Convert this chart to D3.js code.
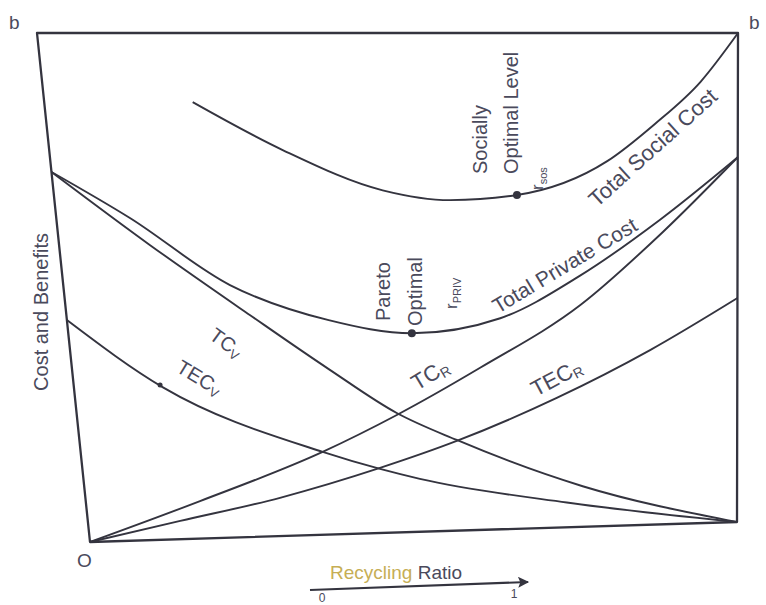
<!DOCTYPE html>
<html>
<head>
<meta charset="utf-8">
<script src="https://cdn.jsdelivr.net/npm/d3@7"></script>
<style>
  body { margin: 0; background: #fff; }
  svg { display: block; }
  text { font-family: "Liberation Sans", Arial, sans-serif; fill: #4a4a5c; }
</style>
</head>
<body>
<div id="chart"></div>
<script>
// curves: [recycling ratio, cost] where cost 1 = b
const tcV = [[0, 0.727], [0.134, 0.581], [0.273, 0.44], [0.387, 0.328], [0.484, 0.239], [0.573, 0.182], [0.763, 0.082], [1, 0]];
const tecV = [[0, 0.436], [0.134, 0.30], [0.368, 0.165], [0.454, 0.128], [0.514, 0.106], [0.738, 0.05], [1, 0]];
const tcR = [[0, 0], [0.175, 0.074], [0.368, 0.165], [0.484, 0.235], [0.613, 0.326], [0.766, 0.449], [0.89, 0.595], [1, 0.746]];
const tecR = [[0, 0], [0.142, 0.036], [0.298, 0.076], [0.454, 0.13], [0.573, 0.18], [0.727, 0.262], [0.869, 0.355], [1, 0.458]];
const totalPrivate = [[0, 0.727], [0.108, 0.635], [0.247, 0.50], [0.39, 0.427], [0.513, 0.398], [0.646, 0.425], [0.766, 0.508], [0.886, 0.62], [1, 0.746]];
const totalSocial = [[0.214, 0.863], [0.339, 0.767], [0.481, 0.685], [0.579, 0.664], [0.677, 0.673], [0.81, 0.74], [0.88, 0.815], [0.946, 0.9], [1, 1]];

// marked points on the curves
const optimumPoints = [[0.513, 0.398], [0.677, 0.673], [0.13, 0.305]];
const ratioTicks = ["0", "1"];

const width = 766, height = 605;

// the page was photographed at an angle, so the plot box is a skewed quad
const tl = [37, 33], tr = [738, 33], br = [737, 522], bl = [90, 542];

const x = d3.scaleLinear().domain([0, 1]).range([0, 1]);
const y = d3.scaleLinear().domain([0, 1]).range([1, 0]);

function warp(d) {
  const u = x(d[0]), v = y(d[1]);
  const px = (1 - u) * (1 - v) * tl[0] + u * (1 - v) * tr[0] + u * v * br[0] + (1 - u) * v * bl[0];
  const py = (1 - u) * (1 - v) * tl[1] + u * (1 - v) * tr[1] + u * v * br[1] + (1 - u) * v * bl[1];
  return [px, py];
}

const svg = d3.select("#chart")
  .append("svg")
  .attr("width", width)
  .attr("height", height);

const ink = "#34343f";

const line = d3.line()
  .x(d => warp(d)[0])
  .y(d => warp(d)[1])
  .curve(d3.curveMonotoneX);

const frame = d3.line()
  .x(d => warp(d)[0])
  .y(d => warp(d)[1])
  .curve(d3.curveLinearClosed);

svg.append("path")
  .attr("d", frame([[0, 1], [1, 1], [1, 0], [0, 0]]))
  .attr("fill", "none")
  .attr("stroke", ink)
  .attr("stroke-width", 2.3)
  .attr("stroke-linejoin", "round");

svg.append("g")
  .attr("fill", "none")
  .attr("stroke", ink)
  .attr("stroke-width", 1.9)
  .selectAll("path")
  .data([tcV, tecV, tcR, tecR, totalPrivate, totalSocial])
  .join("path")
  .attr("d", line);

svg.append("g")
  .attr("fill", ink)
  .selectAll("circle")
  .data(optimumPoints)
  .join("circle")
  .attr("cx", d => warp(d)[0])
  .attr("cy", d => warp(d)[1])
  .attr("r", (d, i) => i < 2 ? 4 : 2.5);

// corner letters
svg.append("text").attr("x", 9).attr("y", 29).attr("font-size", 19).text("b");
svg.append("text").attr("x", 749).attr("y", 29).attr("font-size", 19).text("b");
svg.append("text").attr("x", 77).attr("y", 567).attr("font-size", 19).text("O");

// y axis title
svg.append("text")
  .attr("transform", "translate(48,312) rotate(-90)")
  .attr("text-anchor", "middle")
  .attr("font-size", 20)
  .text("Cost and Benefits");

// curve labels, with subscripts
function label(tx, ty, angle, main, sub, size) {
  const fs = size || 20;
  const t = svg.append("text")
    .attr("transform", `translate(${tx},${ty}) rotate(${angle})`)
    .attr("font-size", fs);
  t.append("tspan").text(main);
  if (sub) t.append("tspan").attr("font-size", Math.round(fs * 0.65)).attr("dy", 3).text(sub);
}

label(208, 338, 36, "TC", "V");
label(175, 371, 31, "TEC", "V");
label(417, 391, -31, "TC", "R", 22);
label(536, 397, -28, "TEC", "R", 22);
label(498, 314, -31, "Total Private Cost", null, 21);
label(597, 208, -42, "Total Social Cost", null, 22);

// vertical notes at the two optima
function vnote(tx, ty, main, sub, size) {
  const t = svg.append("text")
    .attr("transform", `translate(${tx},${ty}) rotate(-90)`)
    .attr("font-size", size || 20);
  t.append("tspan").text(main);
  if (sub) t.append("tspan").attr("font-size", 11).attr("dy", 4).text(sub);
}

vnote(390, 321, "Pareto");
vnote(422, 326, "Optimal");
vnote(457, 309, "r", "PRIV", 17);
vnote(487, 174, "Socially");
vnote(518, 174, "Optimal Level");
vnote(543, 190, "r", "sos", 17);

// recycling ratio arrow
const ratio = d3.scaleLinear().domain([0, 1]).range([322, 514]);

svg.append("defs").append("marker")
  .attr("id", "head")
  .attr("viewBox", "0 0 10 10")
  .attr("refX", 9).attr("refY", 5)
  .attr("markerWidth", 10).attr("markerHeight", 5)
  .attr("orient", "auto")
  .attr("markerUnits", "strokeWidth")
  .append("path")
  .attr("d", "M0,0L10,5L0,10L2,5z")
  .attr("fill", ink);

svg.append("line")
  .attr("x1", ratio(0) - 12).attr("y1", 590)
  .attr("x2", ratio(1) + 14).attr("y2", 582)
  .attr("stroke", ink)
  .attr("stroke-width", 2.2)
  .attr("marker-end", "url(#head)");

svg.append("g")
  .attr("font-size", 12)
  .attr("text-anchor", "middle")
  .selectAll("text")
  .data(ratioTicks)
  .join("text")
  .attr("x", (d, i) => ratio(i))
  .attr("y", (d, i) => 602 - i * 4)
  .text(d => d);

const title = svg.append("text")
  .attr("x", 330).attr("y", 579)
  .attr("font-size", 19);
title.append("tspan").style("fill", "#c6ae55").text("Recycling");
title.append("tspan").text(" Ratio");
</script>
</body>
</html>
